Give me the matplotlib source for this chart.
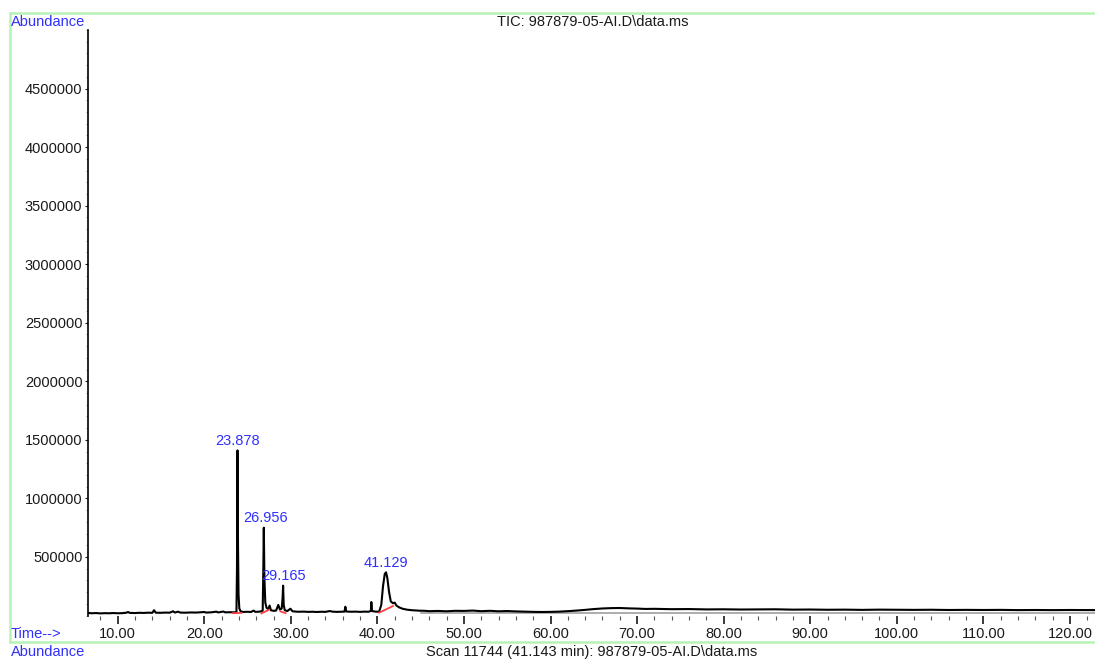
import matplotlib
matplotlib.use('Agg')
import matplotlib.pyplot as plt
from matplotlib.lines import Line2D
from matplotlib.ticker import MultipleLocator, FixedLocator

plt.rcParams['font.family'] = ['Liberation Sans', 'DejaVu Sans']

# TIC trace (time in min, abundance)
times = [6.57, 7.0, 7.5, 8.0, 8.5, 9.0, 9.5, 10.0, 10.5, 11.0, 11.2, 11.4, 12.0, 12.5,
         13.0, 13.5, 14.0, 14.2, 14.4, 15.0, 15.5, 16.0, 16.4, 16.6, 17.0, 17.2, 17.8,
         18.5, 19.0, 19.5, 20.0, 20.2, 20.8, 21.4, 21.6, 22.2, 22.4, 23.0, 23.5, 23.72,
         23.78, 23.84, 23.90, 23.96, 24.05, 24.2, 24.5, 25.0, 25.4, 25.7, 25.9, 26.4,
         26.75, 26.82, 26.88, 26.95, 27.05, 27.2, 27.4, 27.55, 27.7, 28.0, 28.3, 28.55,
         28.75, 28.95, 29.05, 29.11, 29.18, 29.3, 29.6, 29.95, 30.2, 30.8, 31.5, 32.0,
         32.5, 33.0, 33.5, 34.0, 34.5, 34.8, 35.3, 35.8, 36.2, 36.3, 36.4, 37.0, 37.5,
         38.0, 38.5, 39.0, 39.25, 39.3, 39.38, 39.8, 40.2, 40.45, 40.65, 40.85, 41.0,
         41.15, 41.35, 41.55, 41.8, 42.0, 42.2, 42.5, 42.9, 43.4, 44.0, 44.9, 45.5, 46.0,
         47.0, 48.0, 49.0, 50.0, 51.0, 52.0, 53.0, 54.0, 55.0, 56.0, 57.0, 58.0, 59.0,
         60.0, 61.0, 62.0, 63.0, 64.0, 65.0, 66.0, 67.0, 68.0, 69.0, 70.0, 71.0, 72.0,
         74.0, 76.0, 78.0, 80.0, 82.0, 84.0, 86.0, 88.0, 90.0, 92.0, 94.0, 96.0, 98.0,
         100.0, 102.0, 104.0, 106.0, 108.0, 110.0, 112.0, 114.0, 116.0, 118.0, 120.0, 122.9]
abundance = [22000, 19000, 21000, 18000, 20000, 19000, 21000, 19000, 20000, 24000, 30000, 22000, 21000, 23000,
             22000, 24000, 23000, 45000, 24000, 23000, 25000, 24000, 36000, 25000, 33000, 25000, 24000,
             26000, 25000, 27000, 30000, 25000, 27000, 33000, 26000, 34000, 27000, 28000, 27000, 30000,
             400000, 1410000, 600000, 180000, 60000, 35000, 30000, 32000, 30000, 42000, 31000, 33000,
             40000, 380000, 750000, 320000, 110000, 65000, 55000, 85000, 45000, 40000, 42000, 90000,
             50000, 60000, 150000, 255000, 90000, 45000, 38000, 58000, 36000, 32000, 33000, 31000,
             32000, 30000, 32000, 31000, 38000, 33000, 31000, 32000, 33000, 75000, 34000, 32000, 33000,
             31000, 33000, 32000, 40000, 115000, 38000, 33000, 32000, 90000, 250000, 355000, 369000,
             320000, 200000, 120000, 105000, 110000, 85000, 70000, 58000, 50000, 45000, 41000, 40000, 37000,
             39000, 36000, 40000, 39000, 42000, 37000, 40000, 36000, 38000, 35000, 33000, 31000, 30000,
             31000, 33000, 37000, 42000, 48000, 55000, 60000, 63000, 64000, 61000, 59000, 56000, 57000,
             54000, 55000, 52000, 53000, 51000, 52000, 53000, 50000, 51000, 49000, 50000, 48000, 50000,
             49000, 48000, 49000, 47000, 48000, 47000, 48000, 46000, 47000, 46000, 47000, 46000]

# lower edge of the noise band in the late part of the run
band_times = [45.0, 122.9]
band_abund = [20000, 20000]

# integration baselines (red)
base_start_t = [23.3, 26.6, 28.8, 40.2]
base_start_a = [20000, 18000, 35000, 24000]
base_end_t = [24.3, 27.5, 29.4, 41.8]
base_end_a = [22000, 50000, 20000, 81000]

# labelled peaks
peak_labels = ['23.878', '26.956', '29.165', '41.129']
peak_t = [23.84, 27.05, 29.11, 41.0]
peak_a = [1410000, 750000, 255000, 369000]

y_ticks = [500000, 1000000, 1500000, 2000000, 2500000, 3000000, 3500000, 4000000, 4500000]
x_ticks = [10, 20, 30, 40, 50, 60, 70, 80, 90, 100, 110, 120]

W, H = 1095, 659
fig = plt.figure(figsize=(W / 100, H / 100), dpi=100)
ax = fig.add_axes([88 / W, 1 - 615.5 / H, 1 - 88 / W, (615.5 - 30) / H])

ax.plot(band_times, band_abund, color='#a0a0a0', lw=1.2)
ax.plot(times, abundance, color='black', lw=1.5)
for t0, a0, t1, a1 in zip(base_start_t, base_start_a, base_end_t, base_end_a):
    ax.plot([t0, t1], [a0, a1], color='#ff4040', lw=1.3)

for lab, t, a in zip(peak_labels, peak_t, peak_a):
    ax.annotate(lab, (t, a), xytext=(0, 2), textcoords='offset points',
                ha='center', va='bottom', color='#2f2fff', fontsize=10.5)

ax.set_xlim(6.57, 122.9)
ax.set_ylim(0, 5000000)
for s in ['top', 'right', 'bottom']:
    ax.spines[s].set_visible(False)
ax.spines['left'].set_color('black')
ax.spines['left'].set_linewidth(1.2)

ax.yaxis.set_major_locator(FixedLocator(y_ticks))
ax.set_yticklabels([str(v) for v in y_ticks])
ax.yaxis.set_minor_locator(MultipleLocator(100000))
ax.xaxis.set_major_locator(FixedLocator(x_ticks))
ax.set_xticklabels(['%.2f' % v for v in x_ticks])
ax.xaxis.set_minor_locator(MultipleLocator(2))
ax.tick_params(axis='y', which='major', length=2.5, width=0.8, pad=1.5, labelsize=10.5, colors='#1a1a1a')
ax.tick_params(axis='y', which='minor', length=1.2, width=0.6, color='#999999')
ax.tick_params(axis='x', which='major', length=6, width=1.2, pad=2, labelsize=10.5, colors='#1a1a1a')
ax.tick_params(axis='x', which='minor', length=3, width=0.8, color='#555555')

# green frame
green = '#b6f3b6'
fig.add_artist(Line2D([10 / W, 1], [1 - 13 / H, 1 - 13 / H], transform=fig.transFigure, color=green, lw=1.8))
fig.add_artist(Line2D([10 / W, 10 / W], [1 - 13 / H, 1 - 642 / H], transform=fig.transFigure, color=green, lw=1.8))
fig.add_artist(Line2D([10 / W, 1], [1 - 642 / H, 1 - 642 / H], transform=fig.transFigure, color=green, lw=1.8))

blue = '#2f2fff'
fig.text(11 / W, 1 - 22 / H, 'Abundance', color=blue, fontsize=10.5, ha='left', va='center')
fig.text(593 / W, 1 - 22 / H, 'TIC: 987879-05-AI.D\\data.ms', color='#1a1a1a', fontsize=10.5, ha='center', va='center')
fig.text(11 / W, 1 - 634 / H, 'Time-->', color=blue, fontsize=10.5, ha='left', va='center')
fig.text(11 / W, 1 - 652 / H, 'Abundance', color=blue, fontsize=10.5, ha='left', va='center')
fig.text(592 / W, 1 - 652 / H, 'Scan 11744 (41.143 min): 987879-05-AI.D\\data.ms', color='#1a1a1a',
         fontsize=10.5, ha='center', va='center')

fig.savefig('out.png', dpi=100)
